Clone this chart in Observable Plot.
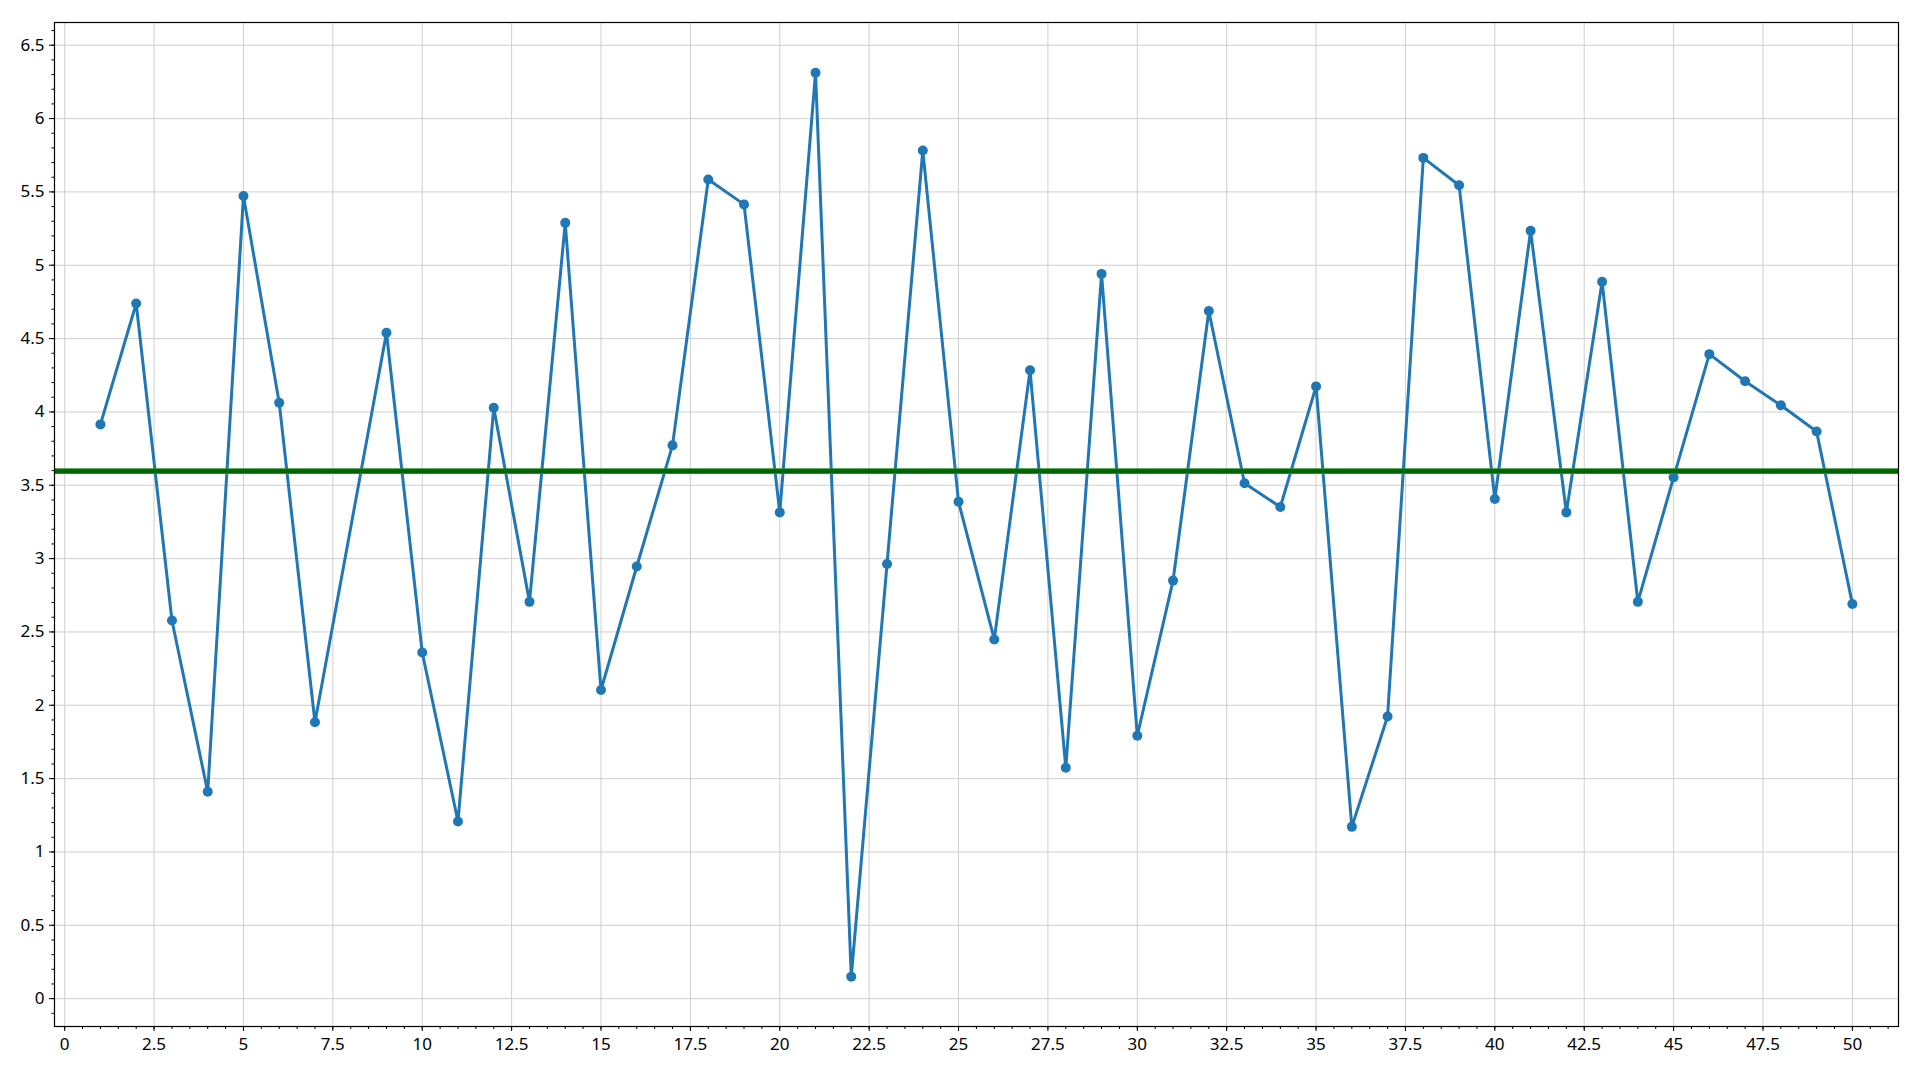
<!DOCTYPE html>
<html>
<head>
<meta charset="utf-8">
<script src="https://cdn.jsdelivr.net/npm/d3@7"></script>
<script src="https://cdn.jsdelivr.net/npm/@observablehq/plot@0.6"></script>
<style>
  html, body { margin: 0; padding: 0; background: #ffffff; }
  #chart { width: 1920px; height: 1080px; }
</style>
</head>
<body>
<div id="chart"></div>
<script>
// x positions (no point at 8)
const xValues = [1, 2, 3, 4, 5, 6, 7, 9, 10, 11, 12, 13, 14, 15, 16, 17, 18, 19, 20,
  21, 22, 23, 24, 25, 26, 27, 28, 29, 30, 31, 32, 33, 34, 35, 36, 37, 38, 39, 40,
  41, 42, 43, 44, 45, 46, 47, 48, 49, 50];
const yValues = [3.915, 4.739, 2.578, 1.410, 5.472, 4.063, 1.884, 4.540, 2.360, 1.208,
  4.028, 2.705, 5.289, 2.104, 2.946, 3.772, 5.585, 5.415, 3.315, 6.312,
  0.150, 2.963, 5.782, 3.387, 2.449, 4.284, 1.574, 4.941, 1.792, 2.850,
  4.688, 3.514, 3.352, 4.174, 1.171, 1.924, 5.732, 5.545, 3.406, 5.235,
  3.315, 4.887, 2.705, 3.554, 4.394, 4.209, 4.045, 3.866, 2.691];
const xTicks = [0, 2.5, 5, 7.5, 10, 12.5, 15, 17.5, 20, 22.5, 25, 27.5, 30, 32.5, 35, 37.5, 40, 42.5, 45, 47.5, 50];
const yTicks = [0, 0.5, 1, 1.5, 2, 2.5, 3, 3.5, 4, 4.5, 5, 5.5, 6, 6.5];
const xDomain = [-0.285, 51.29];
const yDomain = [-0.19, 6.655];

const data = xValues.map((x, i) => ({x, y: yValues[i]}));
const meanValue = d3.mean(yValues);

const xMinor = d3.range(0, 51.01, 0.5).map(v => +v.toFixed(2));
const yMinor = d3.range(-0.1, 6.651, 0.1).map(v => +v.toFixed(2));

const chart = Plot.plot({
  width: 1920,
  height: 1080,
  marginLeft: 54,
  marginRight: 22,
  marginTop: 22,
  marginBottom: 54,
  style: {fontFamily: "'Noto Sans', sans-serif", fontSize: "17px", color: "#000", background: "#fff"},
  x: {domain: xDomain, label: null},
  y: {domain: yDomain, label: null},
  marks: [
    Plot.gridX(xTicks, {stroke: "#cfcfcf", strokeOpacity: 1, strokeWidth: 1}),
    Plot.gridY(yTicks, {stroke: "#cfcfcf", strokeOpacity: 1, strokeWidth: 1}),
    Plot.axisX({ticks: xMinor, tickSize: 3, tickFormat: () => "", stroke: "#000"}),
    Plot.axisY({ticks: yMinor, tickSize: 2.5, tickFormat: () => "", stroke: "#000"}),
    Plot.axisX({ticks: xTicks, tickSize: 5, tickPadding: 6, tickFormat: d => String(d), fontSize: 17, fill: "#000", stroke: "#000"}),
    Plot.axisY({ticks: yTicks, tickSize: 5, tickPadding: 5, tickFormat: d => String(d), fontSize: 17, fill: "#000", stroke: "#000"}),
    Plot.line(data, {x: "x", y: "y", stroke: "#1f77b4", strokeWidth: 3}),
    Plot.dot(data, {x: "x", y: "y", r: 5, fill: "#1f77b4", stroke: "none"}),
    Plot.ruleY([meanValue], {stroke: "#2a8a2a", strokeWidth: 5.6}),
    Plot.ruleY([meanValue], {stroke: "#006400", strokeWidth: 3.6}),
    Plot.frame({stroke: "#000", strokeWidth: 1.2})
  ]
});
document.getElementById("chart").appendChild(chart);
</script>
</body>
</html>
